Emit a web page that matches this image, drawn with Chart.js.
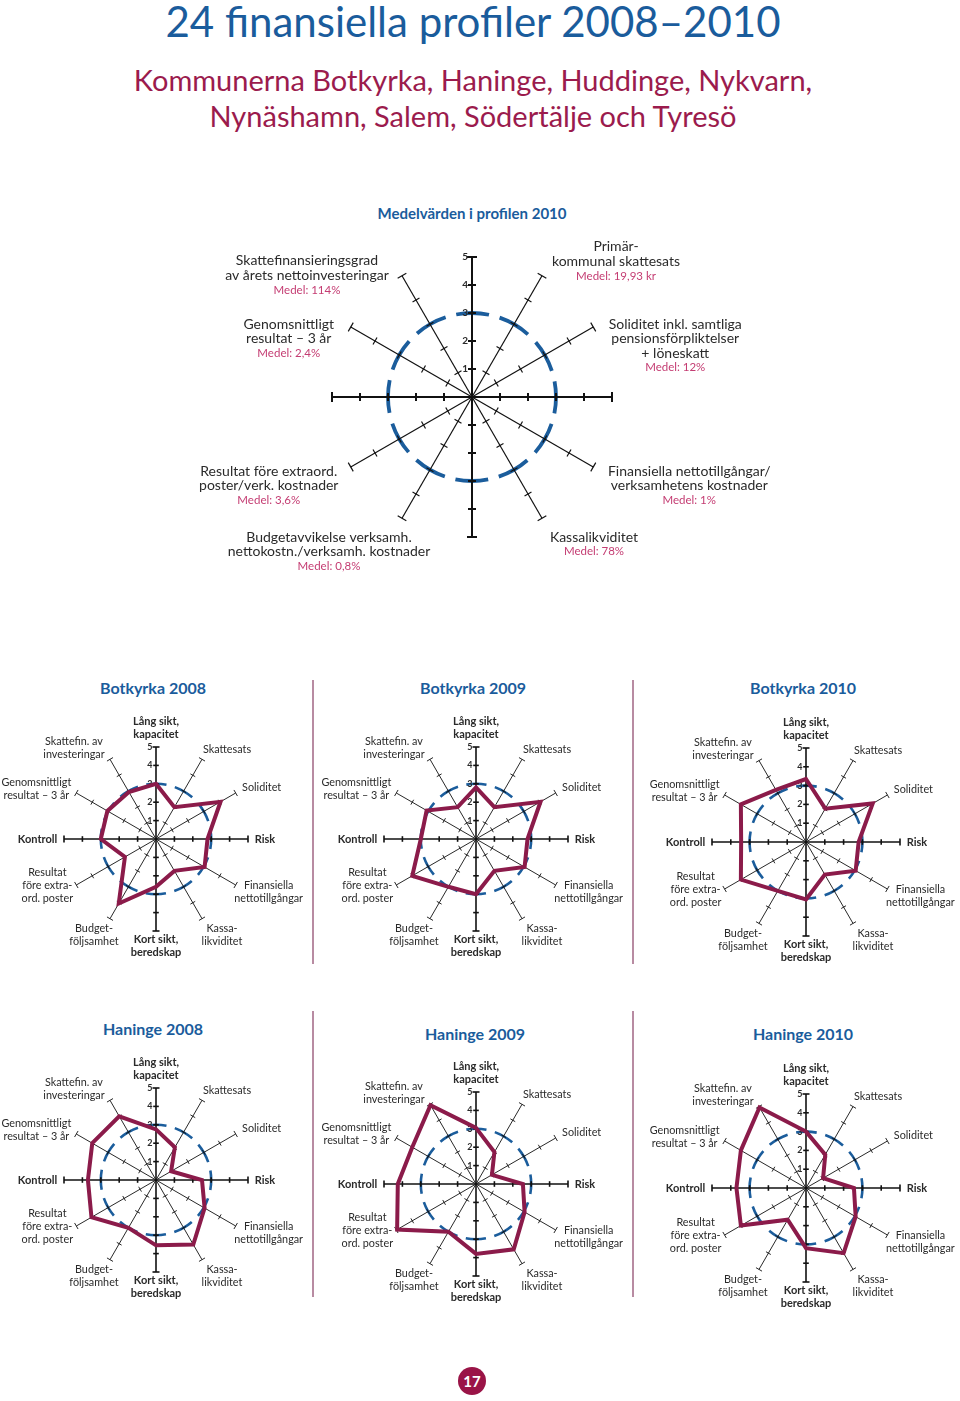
<!DOCTYPE html>
<html lang="sv">
<head>
<meta charset="utf-8">
<title>24 finansiella profiler 2008–2010</title>
<script src="https://cdn.jsdelivr.net/npm/chart.js@4.4.0/dist/chart.umd.min.js"></script>
<style>
  html, body { margin: 0; padding: 0; background: #fff; }
  body { position: relative; width: 960px; height: 1401px; overflow: hidden; font-family: Lato, "Open Sans", sans-serif; }
  h1 { position: absolute; left: 0; width: 946px; top: -4px; margin: 0; text-align: center;
       font-weight: normal; font-size: 42px; line-height: 50px; color: #1a5c9c; }
  .sub { position: absolute; left: 0; width: 946px; top: 62px; text-align: center;
         font-size: 29px; line-height: 36px; color: #9b1b4d; }
  .ctitle { position: absolute; width: 240px; text-align: center; font-weight: bold;
            font-size: 16px; line-height: 20px; color: #1a5c9c; }
  .sep { position: absolute; width: 2px; background: #b88ba2; }
  .page { position: absolute; left: 458px; top: 1367px; width: 28px; height: 28px; border-radius: 50%;
          background: #9a1447; color: #fff; font-weight: bold; font-size: 15px; line-height: 28px; text-align: center; }
  canvas { position: absolute; }
</style>
</head>
<body>
<h1>24 finansiella profiler 2008–2010</h1>
<div class="sub">Kommunerna Botkyrka, Haninge, Huddinge, Nykvarn,<br>Nynäshamn, Salem, Södertälje och Tyresö</div>
<div class="ctitle" style="left:352px;top:203px;font-size:15px;">Medelvärden i profilen 2010</div>

<canvas id="main" width="590" height="345" style="left:190px;top:235px;"></canvas>

<div class="ctitle" style="left:33px;top:678px;">Botkyrka 2008</div>
<div class="ctitle" style="left:353px;top:678px;">Botkyrka 2009</div>
<div class="ctitle" style="left:683px;top:678px;">Botkyrka 2010</div>
<div class="ctitle" style="left:33px;top:1019px;">Haninge 2008</div>
<div class="ctitle" style="left:355px;top:1024px;">Haninge 2009</div>
<div class="ctitle" style="left:683px;top:1024px;">Haninge 2010</div>

<div class="sep" style="left:312px;top:680px;height:284px;"></div>
<div class="sep" style="left:632px;top:680px;height:284px;"></div>
<div class="sep" style="left:312px;top:1011px;height:286px;"></div>
<div class="sep" style="left:632px;top:1011px;height:286px;"></div>

<canvas id="b2008" width="320" height="260"></canvas>
<canvas id="b2009" width="320" height="260"></canvas>
<canvas id="b2010" width="320" height="260"></canvas>
<canvas id="h2008" width="320" height="260"></canvas>
<canvas id="h2009" width="320" height="260"></canvas>
<canvas id="h2010" width="320" height="260"></canvas>

<div class="page">17</div>

<script>
// axes, clockwise from the top
var axisNames = ['Lång sikt, kapacitet', 'Skattesats', 'Soliditet', 'Risk', 'Finansiella nettotillgångar',
  'Kassalikviditet', 'Kort sikt, beredskap', 'Budgetföljsamhet', 'Resultat före extraord. poster',
  'Kontroll', 'Genomsnittligt resultat – 3 år', 'Skattefin. av investeringar'];
var tickValues = [1, 2, 3, 4, 5];
var medelRing = 3;

// small chart labels (one entry per axis)
var smallLabels = [
  ['Lång sikt,', 'kapacitet'], ['Skattesats'], ['Soliditet'], ['Risk'],
  ['Finansiella', 'nettotillgångar'], ['Kassa-', 'likviditet'], ['Kort sikt,', 'beredskap'],
  ['Budget-', 'följsamhet'], ['Resultat', 'före extra-', 'ord. poster'], ['Kontroll'],
  ['Genomsnittligt', 'resultat – 3 år'], ['Skattefin. av', 'investeringar']
];
var boldAxes = [0, 3, 6, 9];

// big chart labels, diagonal axes only
var mainAxes = [11, 1, 10, 2, 8, 4, 7, 5];
var mainLabels = [
  ['Skattefinansieringsgrad', 'av årets nettoinvesteringar'],
  ['Primär-', 'kommunal skattesats'],
  ['Genomsnittligt', 'resultat – 3 år'],
  ['Soliditet inkl. samtliga', 'pensionsförpliktelser', '+ löneskatt'],
  ['Resultat före extraord.', 'poster/verk. kostnader'],
  ['Finansiella nettotillgångar/', 'verksamhetens kostnader'],
  ['Budgetavvikelse verksamh.', 'nettokostn./verksamh. kostnader'],
  ['Kassalikviditet']
];
var mainMedel = ['114%', '19,93 kr', '2,4%', '12%', '3,6%', '1%', '0,8%', '78%'];

// profile values (0–5), same axis order as axisNames
var botkyrka2008 = [3.0, 2.0, 4.05, 2.8, 3.05, 2.0, 2.6, 4.05, 1.95, 3.0, 3.05, 2.95];
var botkyrka2009 = [2.8, 2.0, 4.05, 2.8, 3.05, 2.0, 3.0, 3.0, 4.0, 3.0, 3.1, 2.0];
var botkyrka2010 = [3.35, 2.05, 4.1, 2.8, 3.05, 2.0, 3.05, 3.0, 4.0, 3.45, 4.0, 3.2];
var haninge2008 = [2.75, 2.05, 0.95, 2.5, 3.05, 4.05, 3.55, 3.0, 4.05, 3.7, 4.0, 4.0];
var haninge2009 = [3.05, 2.0, 1.0, 2.55, 3.05, 4.1, 3.8, 3.0, 4.95, 4.25, 4.0, 4.95];
var haninge2010 = [3.0, 2.05, 1.05, 2.55, 3.05, 4.0, 3.2, 1.95, 4.0, 3.7, 4.0, 4.95];

var BLUE = '#1b5d9c', RED = '#8b1b4a', PINK = '#c43c72', INK = '#2a2a2a';

// label offsets from the end of each axis
var smallOffsets = [[0, -25.5], [25, -10], [26, -5], [17, 0], [33, 1], [20, 10], [0, 8.5],
  [-16, 10], [-29, -12], [-26.5, 0], [-40, -10], [-36, -18]];
var mainOffsets = [[-95, -14.8], [74, -28.8], [-62, -3], [82, -3], [-82, 4], [96, 4], [-73, 19], [52, 19]];

var radarDecor = {
  id: 'radarDecor',
  beforeDatasetsDraw: function (chart, args, o) {
    var s = chart.scales.r, ctx = chart.ctx;
    ctx.save();
    ctx.strokeStyle = '#111';
    chart.data.labels.forEach(function (_, i) {
      ctx.lineWidth = i % 3 === 0 ? o.majorWidth : o.minorWidth;
      tickValues.forEach(function (v) {
        var p = s.getPointPositionForValue(i, v);
        var h = v === s.max ? o.cap : o.tick;
        var nx = -Math.sin(p.angle), ny = Math.cos(p.angle);
        ctx.beginPath();
        ctx.moveTo(p.x - nx * h, p.y - ny * h);
        ctx.lineTo(p.x + nx * h, p.y + ny * h);
        ctx.stroke();
      });
    });
    ctx.fillStyle = INK;
    ctx.font = o.numFont;
    ctx.textAlign = 'right';
    ctx.textBaseline = 'middle';
    tickValues.forEach(function (v) {
      var p = s.getPointPositionForValue(0, v);
      ctx.fillText(String(v), p.x - o.numGap, p.y);
    });
    ctx.restore();
  },
  afterDraw: function (chart, args, o) {
    var s = chart.scales.r, ctx = chart.ctx;
    ctx.save();
    ctx.textAlign = 'center';
    ctx.textBaseline = 'middle';
    o.labels.forEach(function (l) {
      var p = s.getPointPositionForValue(l.i, s.max);
      l.lines.forEach(function (ln, k) {
        ctx.font = ln.font;
        ctx.fillStyle = ln.color;
        ctx.fillText(ln.text, p.x + l.dx, p.y + l.dy + k * o.lineHeight);
      });
    });
    ctx.restore();
  }
};

function scaleOptions(ringWidth, duty, major, minor) {
  var dash = function (c) {
    var r = c.scale.getDistanceFromCenterForValue(medelRing);
    var p = 2 * Math.PI * r / 12;
    return [p * duty, p * (1 - duty)];
  };
  var offset = function (c) {
    var r = c.scale.getDistanceFromCenterForValue(medelRing);
    return Math.PI * r / 12 * duty;
  };
  return {
    r: {
      min: 0, max: 5, startAngle: 0,
      ticks: { display: false, stepSize: 1 },
      pointLabels: { display: false },
      angleLines: { color: '#111', lineWidth: function (c) { return c.index % 3 === 0 ? major : minor; } },
      grid: {
        circular: true, color: BLUE,
        lineWidth: function (c) { return c.tick && c.tick.value === medelRing ? ringWidth : 0; },
        borderDash: dash, borderDashOffset: offset
      },
      border: { dash: dash, dashOffset: offset }
    }
  };
}

// big "medelvärden" chart
(function () {
  var labels = mainAxes.map(function (ax, k) {
    var lines = mainLabels[k].map(function (t) { return { text: t, font: '14px Lato', color: INK }; });
    lines.push({ text: 'Medel: ' + mainMedel[k], font: '11.5px Lato', color: PINK });
    return { i: ax, dx: mainOffsets[k][0], dy: mainOffsets[k][1], lines: lines };
  });
  new Chart(document.getElementById('main'), {
    type: 'radar',
    data: { labels: axisNames, datasets: [] },
    options: {
      responsive: false, animation: false, devicePixelRatio: 1,
      layout: { padding: { left: 142, right: 168, top: 22, bottom: 43 } },
      plugins: {
        legend: { display: false }, tooltip: { enabled: false },
        radarDecor: { majorWidth: 2, minorWidth: 1.2, tick: 4, cap: 5, numFont: 'bold 10px Lato', numGap: 4,
          lineHeight: 14.5, labels: labels }
      },
      scales: scaleOptions(3.8, 0.75, 2, 1.2)
    },
    plugins: [radarDecor]
  });
})();

// small profiles
var profiles = [
  { id: 'b2008', data: botkyrka2008, cx: 156, cy: 839, r: 92.5 },
  { id: 'b2009', data: botkyrka2009, cx: 476, cy: 839, r: 92.5 },
  { id: 'b2010', data: botkyrka2010, cx: 806, cy: 842, r: 94.5 },
  { id: 'h2008', data: haninge2008, cx: 156, cy: 1180, r: 92.5 },
  { id: 'h2009', data: haninge2009, cx: 476, cy: 1184, r: 92.5 },
  { id: 'h2010', data: haninge2010, cx: 806, cy: 1188, r: 94.5 }
];

var smallLabelSpec = smallLabels.map(function (lines, i) {
  var bold = boldAxes.indexOf(i) >= 0;
  return {
    i: i, dx: smallOffsets[i][0], dy: smallOffsets[i][1],
    lines: lines.map(function (t) { return { text: t, font: bold ? 'bold 11px Lato' : '10.8px Lato', color: INK }; })
  };
});

profiles.forEach(function (pr) {
  var el = document.getElementById(pr.id);
  el.style.left = (pr.cx - 160) + 'px';
  el.style.top = (pr.cy - 130) + 'px';
  var padX = 160 - pr.r, padY = 130 - pr.r;
  new Chart(el, {
    type: 'radar',
    data: {
      labels: axisNames,
      datasets: [{
        data: pr.data, borderColor: RED, borderWidth: 4, backgroundColor: 'rgba(0,0,0,0)',
        fill: false, pointRadius: 0, tension: 0, borderJoinStyle: 'miter', clip: false
      }]
    },
    options: {
      responsive: false, animation: false, devicePixelRatio: 1,
      layout: { padding: { left: padX, right: padX, top: padY, bottom: padY } },
      plugins: {
        legend: { display: false }, tooltip: { enabled: false },
        radarDecor: { majorWidth: 1.6, minorWidth: 0.9, tick: 2.8, cap: 3.5, numFont: 'bold 9px Lato', numGap: 3.5,
          lineHeight: 13, labels: smallLabelSpec }
      },
      scales: scaleOptions(2.6, 0.7, 1.6, 0.9)
    },
    plugins: [radarDecor]
  });
});
</script>
</body>
</html>
